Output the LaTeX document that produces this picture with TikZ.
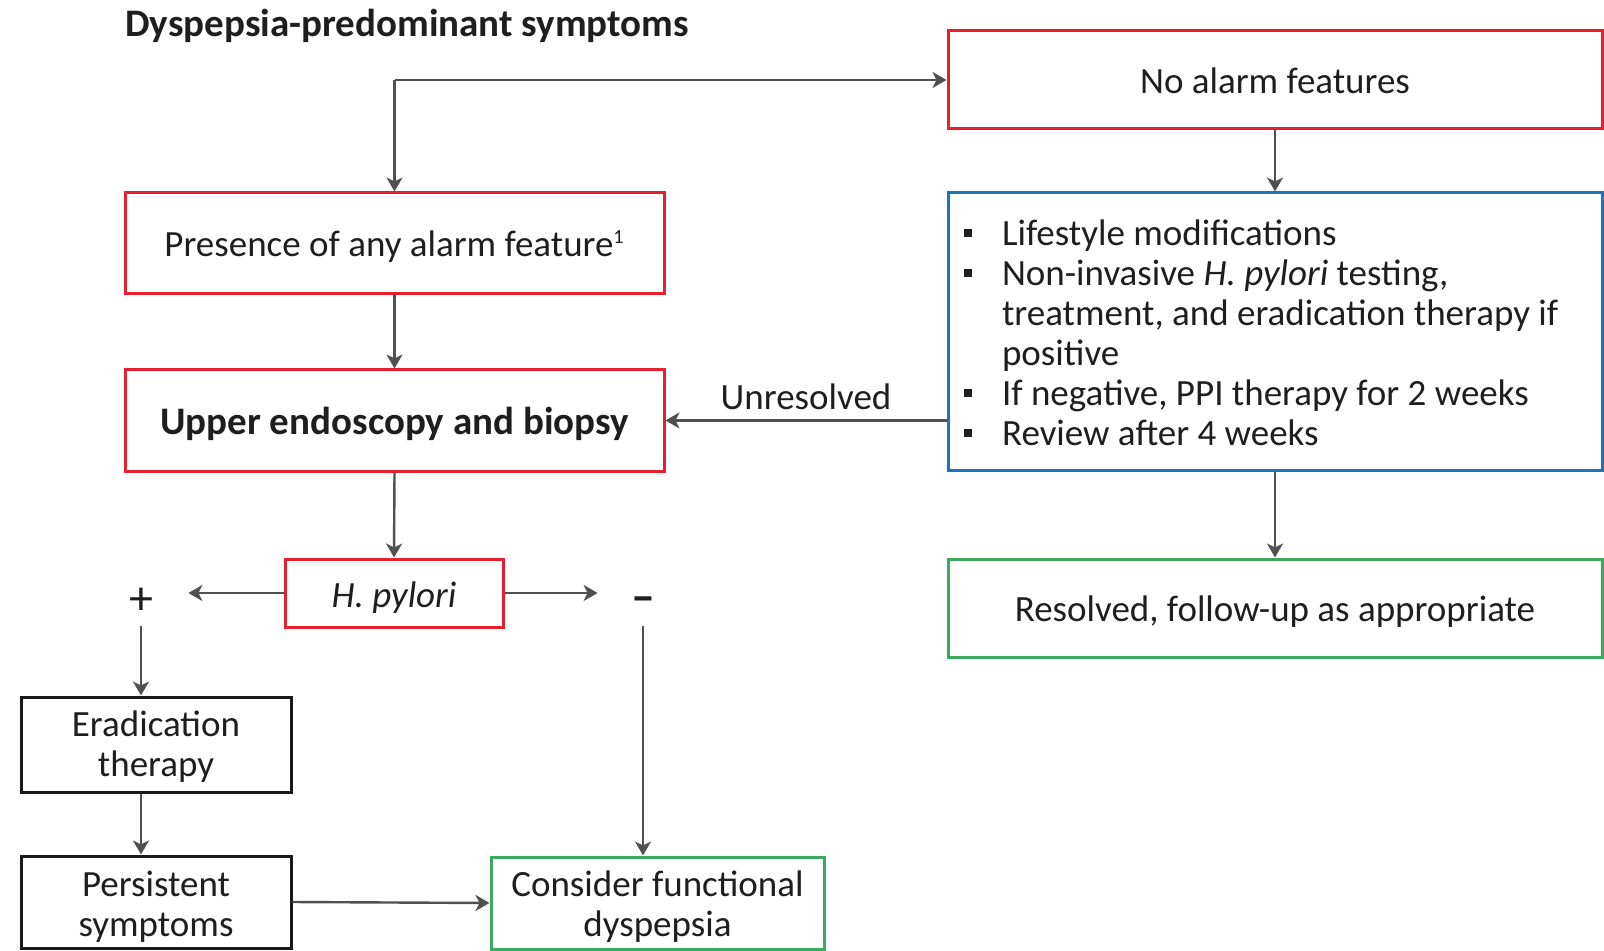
\documentclass[tikz,border=0pt]{standalone}
\usepackage{fontspec}
\setmainfont{Carlito}
\usetikzlibrary{arrows.meta}
\definecolor{bred}{HTML}{E8202E}
\definecolor{bblue}{HTML}{1C75BC}
\definecolor{bgreen}{HTML}{3AAA5C}
\definecolor{agray}{HTML}{505050}
\definecolor{txt}{HTML}{1E1E1E}
\newcommand{\sqb}{\rule[0.22em]{0.22em}{0.22em}}
\newcommand{\lowtxt}[2]{\raisebox{-#1}[\height][\depth]{#2}}
\newcommand{\twolines}[2]{\begin{tabular}{@{}c@{}}#1\\#2\end{tabular}}
\begin{document}
\begin{tikzpicture}[x=0.5pt,y=-0.5pt,
  base/.style={inner sep=0pt, align=center, text=txt, font=\fontsize{18.5}{20}\selectfont},
  boldtext/.style={font=\fontsize{19.5}{21}\selectfont\bfseries},
  box/.style={base, draw, line width=1.5pt},
  redbox/.style={box, draw=bred},
  bluebox/.style={box, draw=bblue},
  greenbox/.style={box, draw=bgreen},
  blackbox/.style={box, draw=black!90},
  arr/.style={draw=agray, line width=1.2pt, -{Stealth[length=7pt,width=8pt,inset=2pt]}},
]
\useasboundingbox (0,0) rectangle (1604,951);

\node[base, boldtext, anchor=west] (title) at (125,26) {Dyspepsia-predominant symptoms};

\node[redbox, minimum width=327pt, minimum height=49pt] (noalarm) at (1275,80) {\lowtxt{0.5pt}{No alarm features}};
\node[bluebox, minimum width=327pt, minimum height=138.5pt] (life) at (1275,331.5) {};
\node[base, anchor=west] (lifetext) at ([xshift=8.5pt,yshift=-3pt]life.west) {%
  \begin{tabular}{@{}l@{\hspace{15pt}}l@{}}
  \sqb & Lifestyle modifications\\
  \sqb & Non-invasive \textit{H. pylori} testing,\\
       & treatment, and eradication therapy if\\
       & positive\\
  \sqb & If negative, PPI therapy for 2 weeks\\
  \sqb & Review after 4 weeks
  \end{tabular}};
\node[greenbox, minimum width=327pt, minimum height=49pt] (resolved) at (1275,608) {\lowtxt{2pt}{Resolved, follow-up as appropriate}};

\node[redbox, minimum width=269.5pt, minimum height=50.5pt] (presence) at (394.5,243.5) {\lowtxt{1.5pt}{Presence of any alarm feature\textsuperscript{\fontsize{10}{10}\selectfont 1}}};
\node[redbox, boldtext, minimum width=269.5pt, minimum height=50.5pt] (endo) at (394.5,420.5) {\lowtxt{1.5pt}{Upper endoscopy and biopsy}};
\node[redbox, minimum width=109pt, minimum height=34pt] (hp) at (394,593) {\lowtxt{2.5pt}{\textit{H. pylori}}};

\node[base, minimum width=47pt, minimum height=28pt, font=\fontsize{24}{24}\selectfont] (plus) at (141,598) {\lowtxt{1.5pt}{+}};
\node[base, minimum width=45pt, minimum height=28pt, font=\fontsize{24}{24}\selectfont\bfseries] (minus) at (643,598) {\lowtxt{3.5pt}{\textendash}};

\node[blackbox, minimum width=135pt, minimum height=47.5pt] (erad) at (156,744.5) {\lowtxt{2pt}{\twolines{Eradication}{therapy}}};
\node[blackbox, minimum width=135pt, minimum height=46pt] (persist) at (156,902) {\lowtxt{3pt}{\twolines{Persistent}{symptoms}}};
\node[greenbox, minimum width=166.5pt, minimum height=46pt] (consider) at (657.5,903) {\lowtxt{2.5pt}{\twolines{Consider functional}{dyspepsia}}};

\coordinate (top) at (394.5,80);
\draw[arr] (top) -- (presence.north);
\draw[arr] (top) -- (noalarm.west);
\draw[arr] (noalarm.south) -- (life.north);
\draw[arr] (life.south) -- (resolved.north);
\draw[arr] (life.west |- endo.east) -- node[base, above=5pt] {Unresolved} (endo.east);
\draw[arr] (presence.south) -- (endo.north);
\draw[arr] (endo.south) -- (hp.north);
\draw[arr] (hp.west) -- (hp.west -| plus.east);
\draw[arr] (hp.east) -- (hp.east -| minus.west);
\draw[arr] (plus.south) -- (plus.south |- erad.north);
\draw[arr] (erad.south -| plus) -- (persist.north -| plus);
\draw[arr] (minus.south) -- (minus.south |- consider.north);
\draw[arr] (persist.east) -- (consider.west);
\end{tikzpicture}
\end{document}
